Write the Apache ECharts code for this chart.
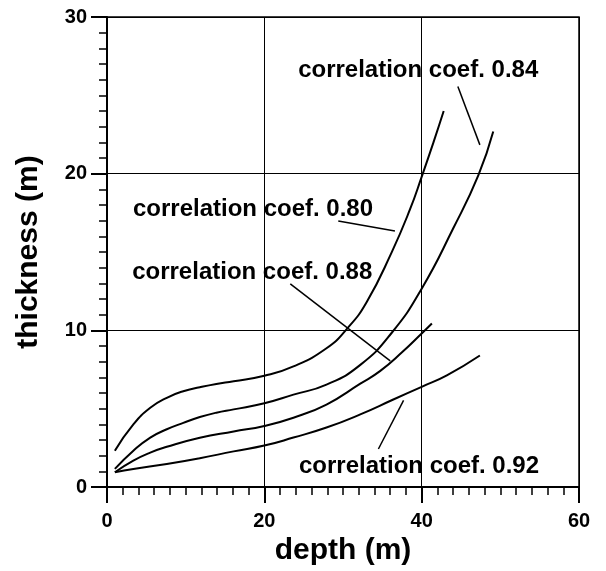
<!DOCTYPE html>
<html>
<head>
<meta charset="utf-8">
<script src="https://cdn.jsdelivr.net/npm/echarts@6/dist/echarts.min.js"></script>
<style>
  html, body { margin: 0; padding: 0; background: #fff; }
  #chart { width: 606px; height: 571px; }
</style>
</head>
<body>
<div id="chart"></div>
<script>
// depth (m) vs thickness (m)
const curve080 = [[1, 2.32], [3.35, 4.0], [5.5, 5.06], [7.6, 5.7], [9.7, 6.12], [11.8, 6.37], [13.9, 6.58], [16.1, 6.75], [20, 7.1], [23.7, 7.7], [27.9, 8.86], [30.5, 10.1], [33, 11.8], [36.2, 15.0], [38.5, 17.7], [40, 19.8], [41.5, 22.0], [42.8, 24.0]]
const curve084 = [[1, 1.16], [3.35, 2.32], [5.5, 3.16], [7.6, 3.69], [9.7, 4.1], [11.8, 4.47], [13.9, 4.75], [16.1, 4.96], [20, 5.35], [23.7, 5.9], [27.9, 6.54], [32.2, 7.8], [36.2, 9.85], [40, 12.66], [44, 16.5], [47.2, 19.9], [49.1, 22.7]]
const curve088 = [[1, 0.95], [3.35, 1.69], [5.5, 2.2], [7.6, 2.57], [11.8, 3.15], [16.1, 3.55], [20, 3.9], [23.7, 4.43], [27.9, 5.27], [32.2, 6.6], [34.7, 7.4], [37.5, 8.6], [40, 9.8], [41.3, 10.44]]
const curve092 = [[1, 0.95], [3.35, 1.16], [7.6, 1.47], [11.8, 1.84], [16.1, 2.28], [20, 2.65], [23.7, 3.16], [27.9, 3.8], [32.2, 4.64], [36.4, 5.59], [40, 6.4], [43.2, 7.13], [47.4, 8.4]]

// leader lines from labels to curves
const leader080 = [[29.4, 16.98], [36.6, 16.35]]
const leader084 = [[44.6, 25.57], [47.4, 21.84]]
const leader088 = [[23.3, 12.97], [36.0, 8.06]]
const leader092 = [[34.5, 2.43], [37.7, 5.53]]

// label anchors (left edge, middle)
const labelNames = ['correlation coef. 0.84', 'correlation coef. 0.80', 'correlation coef. 0.88', 'correlation coef. 0.92']
const labelAnchors = [[24.3, 26.6], [3.3, 17.7], [3.2, 13.7], [24.4, 1.33]]

const font = 'Arial, "Liberation Sans", sans-serif'

let chart = echarts.init(document.getElementById('chart'))

let curveSeries = (data) => ({
  type: 'line',
  smooth: true,
  showSymbol: false,
  symbol: 'none',
  lineStyle: { color: '#000', width: 2 },
  data: data
})

let leaderSeries = (data) => ({
  type: 'line',
  showSymbol: false,
  symbol: 'none',
  lineStyle: { color: '#000', width: 1.5 },
  data: data
})

let option = {
  animation: false,
  backgroundColor: '#fff',
  grid: {
    left: 107,
    right: 27,
    top: 17,
    bottom: 81,
    show: true,
    borderColor: '#000',
    borderWidth: 1.5
  },
  xAxis: {
    type: 'value',
    min: 0,
    max: 60,
    interval: 20,
    name: 'depth (m)',
    nameLocation: 'middle',
    nameGap: 48,
    nameTextStyle: { fontFamily: font, fontSize: 30, fontWeight: 'bold', color: '#000' },
    axisLine: { lineStyle: { color: '#000', width: 2 } },
    axisTick: { length: 16, lineStyle: { color: '#000', width: 2 } },
    minorTick: { show: true, splitNumber: 10, length: 8, lineStyle: { color: '#000', width: 1.5 } },
    axisLabel: { margin: 24, fontFamily: font, fontSize: 20, fontWeight: 'bold', color: '#000' },
    splitLine: { show: true, lineStyle: { color: '#000', width: 1 } }
  },
  yAxis: {
    type: 'value',
    min: 0,
    max: 30,
    interval: 10,
    name: 'thickness (m)',
    nameLocation: 'middle',
    nameGap: 63,
    nameTextStyle: { fontFamily: font, fontSize: 30, fontWeight: 'bold', color: '#000' },
    axisLine: { lineStyle: { color: '#000', width: 2 } },
    axisTick: { length: 16, lineStyle: { color: '#000', width: 2 } },
    minorTick: { show: true, splitNumber: 10, length: 8, lineStyle: { color: '#000', width: 1.5 } },
    axisLabel: { margin: 20, fontFamily: font, fontSize: 20, fontWeight: 'bold', color: '#000' },
    splitLine: { show: true, lineStyle: { color: '#000', width: 1 } }
  },
  series: [
    curveSeries(curve080),
    curveSeries(curve084),
    curveSeries(curve088),
    curveSeries(curve092),
    leaderSeries(leader080),
    leaderSeries(leader084),
    leaderSeries(leader088),
    leaderSeries(leader092),
    {
      type: 'scatter',
      symbolSize: 0,
      silent: true,
      itemStyle: { opacity: 1 },
      label: {
        show: true,
        position: 'right',
        distance: 0,
        fontFamily: font,
        fontSize: 24,
        fontWeight: 'bold',
        color: '#000',
        formatter: (p) => labelNames[p.dataIndex]
      },
      data: labelAnchors
    }
  ]
}

chart.setOption(option)
</script>
</body>
</html>
